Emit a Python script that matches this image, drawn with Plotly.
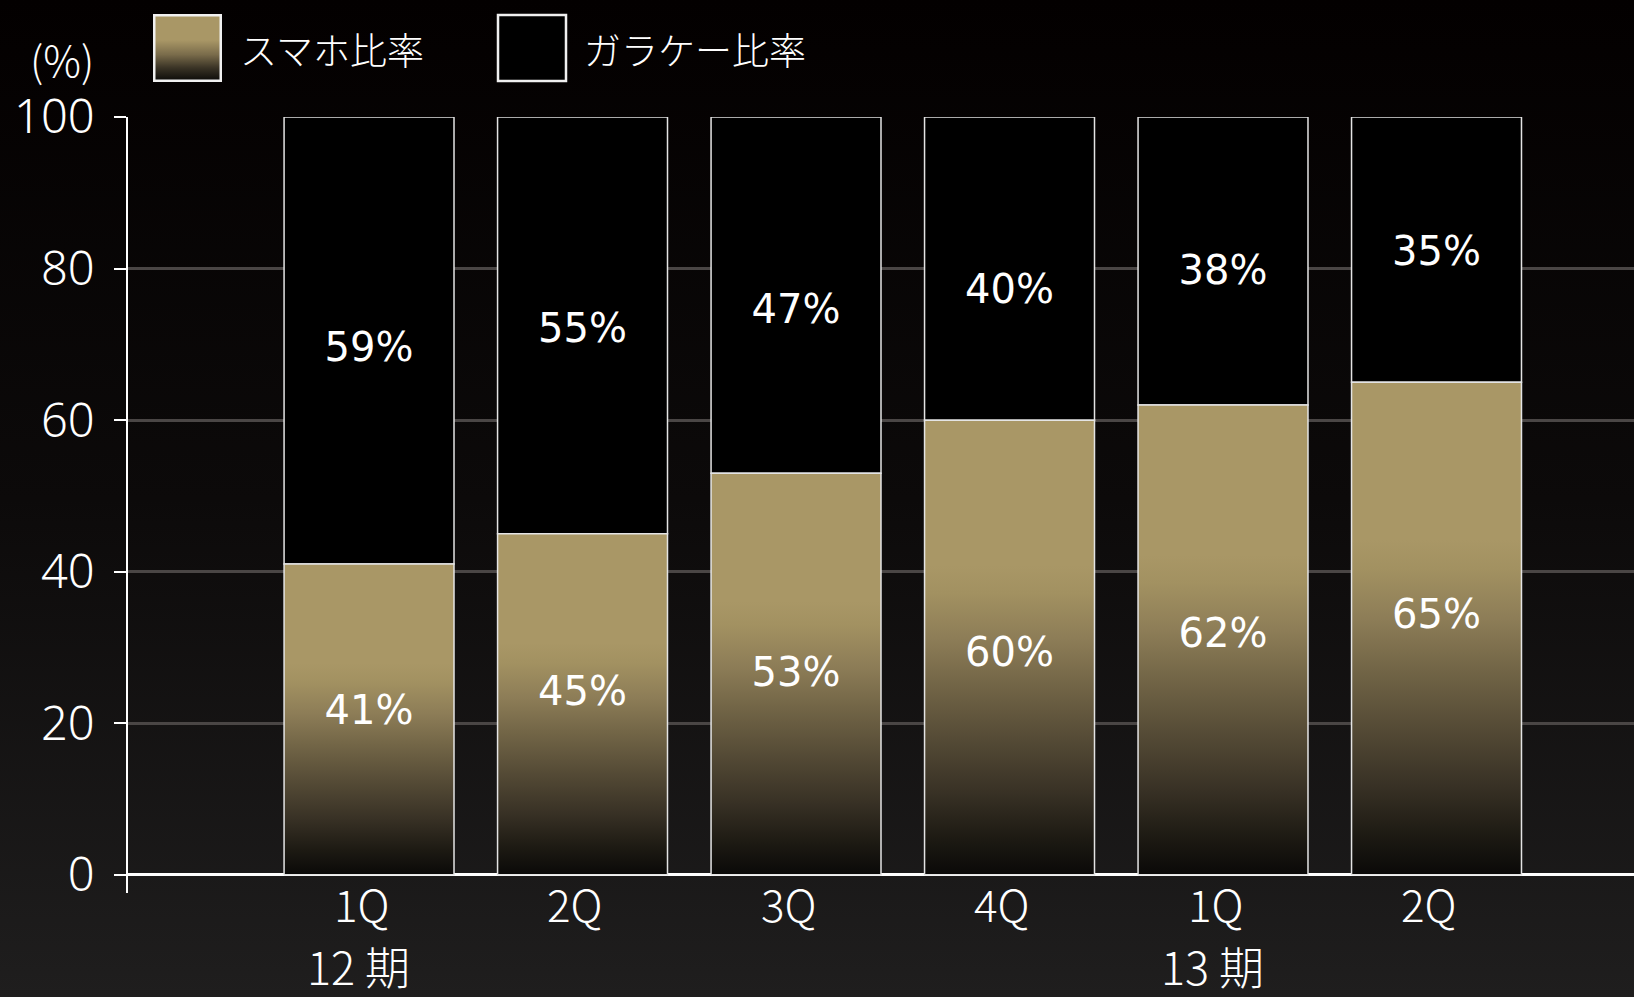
import base64
import numpy as np
import plotly.graph_objects as go

# --- data -------------------------------------------------------------
quarters = ["1Q", "2Q", "3Q", "4Q", "1Q", "2Q"]
periods = ["12 期", "13 期"]
period_first_quarter = [0, 4]
smartphone = [41, 45, 53, 60, 62, 65]
feature_phone = [59, 55, 47, 40, 38, 35]
y_ticks = [0, 20, 40, 60, 80, 100]
series_names = ["スマホ比率", "ガラケー比率"]

# --- page geometry ----------------------------------------------------
W, H = 1634, 997
ML, MR, MT, MB = 128, 0, 117, 104
PW = W - ML - MR
PH = H - MT - MB


def px_x(p):
    return (p - ML) / PW


def px_y(p):
    return (H - MB - p) / PH


THIN = "Noto Sans CJK JP, Noto Sans, sans-serif"
NUM = "Noto Sans, Noto Sans CJK JP, sans-serif"
VALUE_FONT = "DejaVu Sans, Liberation Sans, sans-serif"
GOLD = "#a99766"
EDGE = "#e4e4e4"

gold_scale = [
    [0.00, "#0a0908"],
    [0.08, "#1d1a13"],
    [0.18, "#383125"],
    [0.30, "#554b36"],
    [0.42, "#736647"],
    [0.52, "#8d7d57"],
    [0.62, "#a29161"],
    [0.68, GOLD],
    [1.00, GOLD],
]

x_pos = np.arange(len(quarters))
bar_w = 0.796


def svg_uri(svg):
    return "data:image/svg+xml;base64," + base64.b64encode(svg.encode()).decode()


def trend(values):
    """Smooth the label heights along a straight line through the segment midpoints."""
    k, c = np.polyfit(x_pos, values, 1)
    return k * x_pos + c


sp = np.array(smartphone, dtype=float)
fp = np.array(feature_phone, dtype=float)
sp_label_y = trend(sp / 2) + 0.4
fp_label_y = trend(sp + fp / 2) - 1.7

fig = go.Figure()

# smartphone share: gradient-filled columns from 0 up to the value
for i, v in enumerate(smartphone):
    x0, x1 = i - bar_w / 2, i + bar_w / 2
    fig.add_trace(go.Scatter(
        x=[x0, x1, x1, x0, x0], y=[0, 0, v, v, 0],
        mode="lines", fill="toself",
        fillgradient=dict(type="vertical", colorscale=gold_scale),
        line=dict(color=EDGE, width=1.5),
        hoverinfo="skip", showlegend=False,
    ))

# feature-phone share stacked on top
fig.add_trace(go.Bar(
    x=x_pos, y=feature_phone, base=smartphone, width=bar_w,
    marker=dict(color="#000000", line=dict(color=EDGE, width=1.5)),
    name=series_names[1], hoverinfo="skip", showlegend=False,
))

# value labels inside each segment
fig.add_trace(go.Scatter(
    x=x_pos, y=sp_label_y,
    text=[f"{v}%" for v in smartphone], mode="text",
    textfont=dict(family=VALUE_FONT, size=40, color="white"),
    hoverinfo="skip", showlegend=False,
))
fig.add_trace(go.Scatter(
    x=x_pos, y=fp_label_y,
    text=[f"{f}%" for f in feature_phone], mode="text",
    textfont=dict(family=VALUE_FONT, size=40, color="white"),
    hoverinfo="skip", showlegend=False,
))

annotations = []
for i, q in enumerate(quarters):
    annotations.append(dict(
        x=i, xref="x", y=px_y(903), yref="paper", text=q, showarrow=False,
        xshift=-8, xanchor="center", yanchor="middle",
        font=dict(family=THIN, size=44, color="white", weight=300),
    ))
for k, p in enumerate(periods):
    annotations.append(dict(
        x=int(period_first_quarter[k]), xref="x", y=px_y(965), yref="paper",
        text=p, showarrow=False, xshift=-11, xanchor="center", yanchor="middle",
        font=dict(family=THIN, size=45, color="white", weight=300),
    ))
annotations.append(dict(
    x=px_x(62), y=px_y(58), xref="paper", yref="paper", text="(%)",
    showarrow=False, xanchor="center", yanchor="middle",
    font=dict(family=THIN, size=42, color="white", weight=300),
))
annotations.append(dict(
    x=px_x(238), y=px_y(49), xref="paper", yref="paper", text=series_names[0],
    showarrow=False, xanchor="left", yanchor="middle",
    font=dict(family=THIN, size=37, color="white", weight=300),
))
annotations.append(dict(
    x=px_x(582), y=px_y(49), xref="paper", yref="paper", text=series_names[1],
    showarrow=False, xanchor="left", yanchor="middle",
    font=dict(family=THIN, size=37, color="white", weight=300),
))

background_svg = (
    '<svg xmlns="http://www.w3.org/2000/svg" width="100" height="100" '
    'viewBox="0 0 100 100" preserveAspectRatio="none">'
    '<defs><linearGradient id="g" x1="0" y1="0" x2="0" y2="1">'
    '<stop offset="0" stop-color="#030000"/>'
    '<stop offset="0.5" stop-color="#0c0a0a"/>'
    '<stop offset="1" stop-color="#1f1e1e"/>'
    '</linearGradient></defs>'
    '<rect width="100" height="100" fill="url(#g)"/></svg>'
)

swatch_svg = (
    '<svg xmlns="http://www.w3.org/2000/svg" width="69" height="68" '
    'viewBox="0 0 69 68" preserveAspectRatio="none">'
    '<defs><linearGradient id="s" x1="0" y1="0" x2="0" y2="1">'
    f'<stop offset="0" stop-color="{GOLD}"/>'
    f'<stop offset="0.38" stop-color="{GOLD}"/>'
    '<stop offset="0.6" stop-color="#7a6c4b"/>'
    '<stop offset="0.8" stop-color="#3b3426"/>'
    '<stop offset="1" stop-color="#0c0b09"/>'
    '</linearGradient></defs>'
    '<rect x="1.25" y="1.25" width="66.5" height="65.5" fill="url(#s)" '
    'stroke="#f0f0f0" stroke-width="2.5"/></svg>'
)

images = [
    dict(source=svg_uri(background_svg), xref="paper", yref="paper",
         x=px_x(0), y=px_y(0), sizex=W / PW, sizey=H / PH,
         xanchor="left", yanchor="top", sizing="stretch", layer="below"),
    dict(source=svg_uri(swatch_svg), xref="paper", yref="paper",
         x=px_x(153), y=px_y(14), sizex=69 / PW, sizey=68 / PH,
         xanchor="left", yanchor="top", sizing="stretch", layer="above"),
]

shapes = [
    dict(type="rect", xref="paper", yref="paper",
         x0=px_x(498), x1=px_x(566), y0=px_y(81), y1=px_y(15),
         fillcolor="#000000", line=dict(color="#f0f0f0", width=2.5)),
]

fig.update_layout(
    width=W, height=H,
    margin=dict(l=ML, r=MR, t=MT, b=MB, pad=0),
    paper_bgcolor="#0c0a0a",
    plot_bgcolor="rgba(0,0,0,0)",
    showlegend=False,
    annotations=annotations,
    images=images,
    shapes=shapes,
    xaxis=dict(
        range=[-1.129, 5.925], showticklabels=False, ticks="",
        showgrid=False, zeroline=False, showline=False, fixedrange=True,
    ),
    yaxis=dict(
        range=[-2.4, 100], tickvals=y_ticks, ticks="outside", ticklen=12,
        tickwidth=2, tickcolor="white", showline=True, linecolor="white",
        linewidth=2, showgrid=True, gridcolor="#4a4645", gridwidth=2.5,
        zeroline=True, zerolinecolor="white", zerolinewidth=3,
        ticklabelstandoff=10,
        tickfont=dict(family=NUM, size=47, color="white", weight=300),
        fixedrange=True,
    ),
)

fig.write_html("out.html")
